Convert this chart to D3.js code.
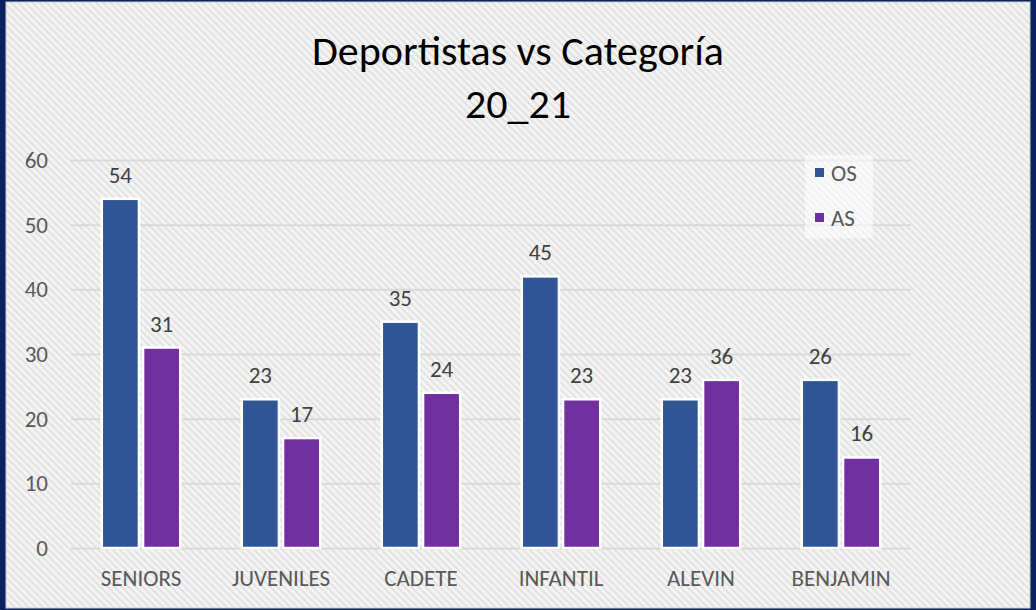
<!DOCTYPE html>
<html lang="es">
  <head>
    <meta charset="utf-8">
    <title>Deportistas vs Categoría 20_21</title>
    <style>
      html, body { margin: 0; padding: 0; background: #ffffff; }
      #viz { width: 1036px; height: 610px; }
    </style>
  </head>
  <body>
    <div id="viz"></div>
    <script src="https://unpkg.com/d3@7/dist/d3.min.js"></script>
    <script>
      // categories and series
      const categories = ['SENIORS', 'JUVENILES', 'CADETE', 'INFANTIL', 'ALEVIN', 'BENJAMIN']
      const series = ['OS', 'AS']
      // bar heights as drawn in the picture
      const osValues = [54, 23, 35, 42, 23, 26]
      const asValues = [31, 17, 24, 23, 26, 14]
      // data labels as printed above the bars
      const osLabels = [54, 23, 35, 45, 23, 26]
      const asLabels = [31, 17, 24, 23, 36, 16]
      const yTicks = [0, 10, 20, 30, 40, 50, 60]

      const width = 1036
      const height = 610
      const colors = { OS: '#2f5597', AS: '#7030a0' }
      const font = "Calibri, Carlito, 'Open Sans', sans-serif"

      const svg = d3.select('#viz').append('svg')
        .attr('width', width)
        .attr('height', height)

      // diagonal hatch background
      const defs = svg.append('defs')
      const pat = defs.append('pattern')
        .attr('id', 'hatch')
        .attr('patternUnits', 'userSpaceOnUse')
        .attr('width', 5)
        .attr('height', 5)
        .attr('patternTransform', 'rotate(-45)')
      pat.append('rect').attr('width', 5).attr('height', 5).attr('fill', '#f4f4f4')
      pat.append('rect').attr('width', 2).attr('height', 5).attr('fill', '#e2e2e2')

      svg.append('rect')
        .attr('width', width).attr('height', height)
        .attr('fill', '#0c2260')
      svg.append('rect')
        .attr('x', 6).attr('y', 2)
        .attr('width', width - 12).attr('height', height - 4)
        .attr('fill', 'url(#hatch)')
        .attr('stroke', '#d0d0d0')
        .attr('stroke-width', 1)

      const margin = { left: 71, right: 125, top: 160, bottom: 62 }
      const x = d3.scaleBand()
        .domain(categories)
        .range([margin.left, width - margin.right])
        .paddingInner(0.44)
        .paddingOuter(0.22)
      const x1 = d3.scaleBand()
        .domain(series)
        .range([0, x.bandwidth()])
        .paddingInner(0.1)
      const y = d3.scaleLinear()
        .domain([0, 60])
        .range([height - margin.bottom, margin.top])

      // grid
      const yAxis = svg.append('g')
        .attr('transform', `translate(${margin.left},0)`)
        .call(d3.axisLeft(y).tickValues(yTicks).tickSize(-(width - margin.right - margin.left)).tickPadding(23))
      yAxis.select('.domain').remove()
      yAxis.selectAll('.tick line').attr('stroke', '#d9d9d9').attr('stroke-width', 2)
      yAxis.selectAll('.tick text')
        .attr('fill', '#595959')
        .style('font-family', font)
        .style('font-size', '23px')

      const rows = categories.map((c, i) => ({
        cat: c,
        bars: [
          { key: 'OS', value: osValues[i], label: osLabels[i] },
          { key: 'AS', value: asValues[i], label: asLabels[i] }
        ]
      }))

      const groups = svg.append('g').selectAll('g')
        .data(rows)
        .enter()
          .append('g')
            .attr('transform', d => `translate(${x(d.cat)},0)`)

      groups.selectAll('rect')
        .data(d => d.bars)
        .enter()
          .append('rect')
            .attr('x', d => x1(d.key))
            .attr('y', d => y(d.value))
            .attr('width', x1.bandwidth())
            .attr('height', d => y(0) - y(d.value))
            .attr('fill', d => colors[d.key])
            .attr('stroke', '#ffffff')
            .attr('stroke-width', 2.5)

      groups.selectAll('text')
        .data(d => d.bars)
        .enter()
          .append('text')
            .attr('x', d => x1(d.key) + x1.bandwidth() / 2)
            .attr('y', d => y(d.value) - 16)
            .attr('text-anchor', 'middle')
            .attr('fill', '#404040')
            .style('font-family', font)
            .style('font-size', '23px')
            .text(d => d.label)

      // category axis
      const xAxis = svg.append('g')
        .attr('transform', `translate(0,${height - margin.bottom})`)
        .call(d3.axisBottom(x).tickSize(0).tickPadding(22))
      xAxis.select('.domain').remove()
      xAxis.selectAll('.tick text')
        .attr('fill', '#595959')
        .style('font-family', font)
        .style('font-size', '23px')

      // title
      svg.append('text')
        .attr('x', 518).attr('y', 65)
        .attr('text-anchor', 'middle')
        .attr('fill', '#000000')
        .style('font-family', font)
        .style('font-size', '42px')
        .text('Deportistas vs Categoría')
      svg.append('text')
        .attr('x', 518).attr('y', 118)
        .attr('text-anchor', 'middle')
        .attr('fill', '#000000')
        .style('font-family', font)
        .style('font-size', '42px')
        .text('20_21')

      // legend
      const legend = svg.append('g').attr('transform', 'translate(805,155)')
      legend.append('rect')
        .attr('width', 68).attr('height', 83)
        .attr('fill', '#ffffff').attr('fill-opacity', 0.55)
      const items = legend.selectAll('g.item')
        .data(series)
        .enter()
          .append('g')
            .attr('class', 'item')
            .attr('transform', (d, i) => `translate(10,${13 + i * 45})`)
      items.append('rect')
        .attr('width', 9).attr('height', 9)
        .attr('fill', d => colors[d])
      items.append('text')
        .attr('x', 16).attr('y', 5)
        .attr('dy', '0.35em')
        .attr('fill', '#595959')
        .style('font-family', font)
        .style('font-size', '23px')
        .text(d => d)
    </script>
  </body>
</html>
